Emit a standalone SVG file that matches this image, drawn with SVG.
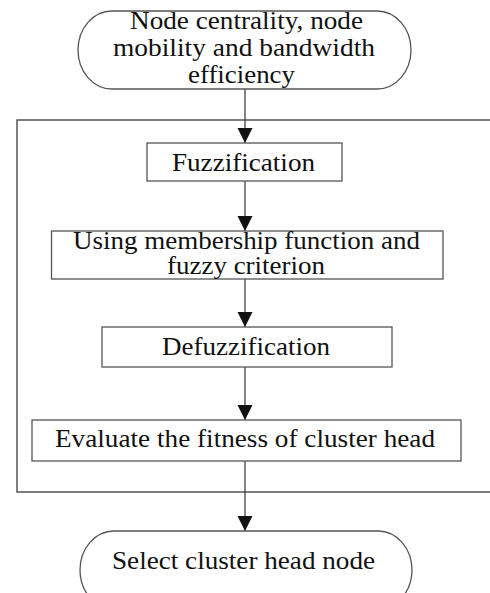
<svg xmlns="http://www.w3.org/2000/svg" width="490" height="593" viewBox="0 0 490 593">
<defs>
<style>
.box{fill:#fff;stroke:#555;stroke-width:1.3}
.frame{fill:none;stroke:#555;stroke-width:1.5}
.lbl{font-family:"Liberation Serif",serif;font-size:25px;fill:#111;text-anchor:middle}
.conn{stroke:#333;stroke-width:1.2;fill:none;marker-end:url(#arr)}
</style>
<marker id="arr" markerUnits="userSpaceOnUse" markerWidth="16" markerHeight="16" viewBox="0 0 16 16" refX="15" refY="8" orient="auto">
<path d="M0,0.5 L15,8 L0,15.5 Z" fill="#111"/>
</marker>
</defs>
<rect width="490" height="593" fill="#fff"/>
<g id="container"><rect class="frame" x="17" y="120" width="482" height="372"/></g>
<g id="connectors">
<line class="conn" x1="245" y1="89" x2="245" y2="143"/>
<line class="conn" x1="245" y1="181" x2="245" y2="231"/>
<line class="conn" x1="245" y1="279" x2="245" y2="327"/>
<line class="conn" x1="245" y1="367" x2="245" y2="420"/>
<line class="conn" x1="245" y1="461" x2="245" y2="531"/>
</g>
<g id="start">
<rect class="box" x="78" y="11" width="333" height="78" rx="34" ry="39"/>
<text class="lbl" x="246.5" y="28.5" textLength="233" lengthAdjust="spacingAndGlyphs">Node centrality, node</text>
<text class="lbl" x="244" y="56" textLength="262" lengthAdjust="spacingAndGlyphs">mobility and bandwidth</text>
<text class="lbl" x="241.5" y="82.5" textLength="107" lengthAdjust="spacingAndGlyphs">efficiency</text>
</g>
<g id="fuzzification">
<rect class="box" x="147" y="143" width="195" height="38"/>
<text class="lbl" x="243.5" y="170.5" textLength="143" lengthAdjust="spacingAndGlyphs">Fuzzification</text>
</g>
<g id="membership">
<rect class="box" x="51.5" y="231" width="391.5" height="48"/>
<text class="lbl" x="246.5" y="248.5" textLength="347" lengthAdjust="spacingAndGlyphs">Using membership function and</text>
<text class="lbl" x="246" y="273.5" textLength="158" lengthAdjust="spacingAndGlyphs">fuzzy criterion</text>
</g>
<g id="defuzzification">
<rect class="box" x="102" y="327" width="290" height="40"/>
<text class="lbl" x="246" y="354.5" textLength="168" lengthAdjust="spacingAndGlyphs">Defuzzification</text>
</g>
<g id="evaluate">
<rect class="box" x="32" y="420" width="429" height="41"/>
<text class="lbl" x="245" y="446.5" textLength="380" lengthAdjust="spacingAndGlyphs">Evaluate the fitness of cluster head</text>
</g>
<g id="end">
<rect class="box" x="80" y="531" width="332" height="78" rx="34" ry="39"/>
<text class="lbl" x="243.5" y="568.5" textLength="263" lengthAdjust="spacingAndGlyphs">Select cluster head node</text>
</g>
</svg>
